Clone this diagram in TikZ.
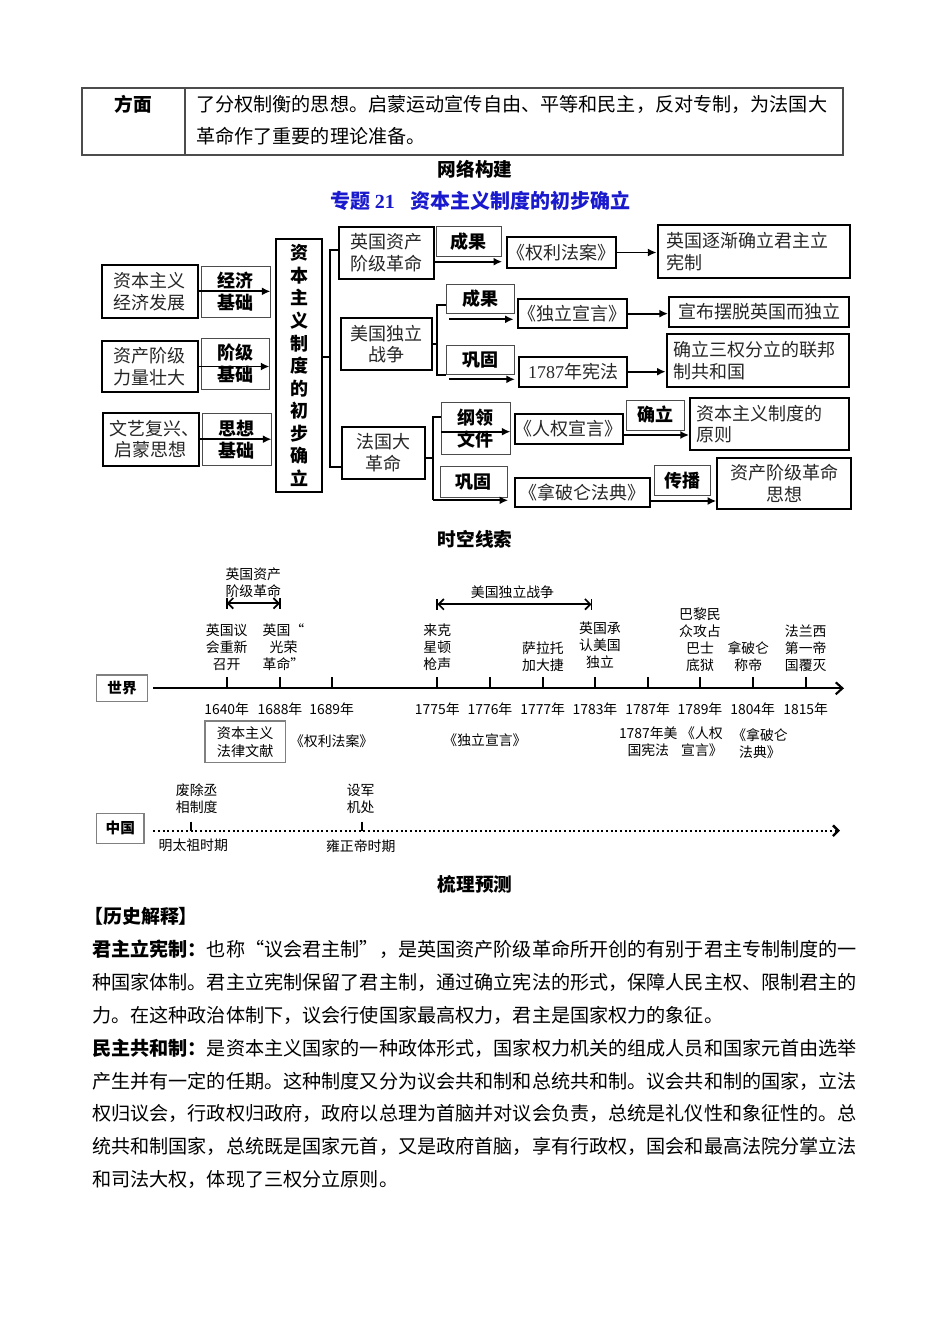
\documentclass[tikz,border=0pt]{standalone}
\usepackage{fontspec}
\setmainfont{Noto Sans CJK SC}
\newfontfamily\serf{Liberation Serif}
\usetikzlibrary{arrows.meta}
\definecolor{titleblue}{RGB}{25,25,205}
\newcommand\fsz[2]{\fontsize{#1}{#2}\selectfont}
\newcommand\mybox[7]{\node[#1, minimum width={(#5-#3)*0.75pt}, minimum height={(#6-#4)*0.75pt}] (#2) at ({(#3+#5)/2},{(#4+#6)/2}) {#7};}
\newcommand\zhjust{\noindent\XeTeXlinebreaklocale "zh"\XeTeXlinebreakskip=0pt plus 4pt minus 0.4pt\parfillskip=0pt\relax}
\begin{document}
\begin{tikzpicture}[x=0.75pt, y=-0.75pt,
  cbox/.style={draw=black, line width=1.5pt, inner sep=0pt, align=center, text=black!85, font=\fsz{13.5}{16.3}},
  lbox/.style={draw=black!70, line width=0.7pt, inner sep=0pt, align=center, font=\bfseries\fsz{13.5}{16.3}},
  mainv/.style={cbox, text=black, font=\bfseries\fsz{13.5}{16.9}},
  arr/.style={line width=1.3pt, -{Latex[length=6.5pt,width=6pt]}},
  brk/.style={line width=1.3pt},
  tbox/.style={draw=black!50, line width=0.8pt, inner sep=0pt, font=\bfseries\fsz{11}{13}},
  tbox2/.style={draw=black!50, line width=0.8pt, inner sep=0pt, align=center, font=\fsz{10.6}{13.5}},
  tlbl/.style={inner sep=0pt, align=center, font=\fsz{10.4}{12.75}},
  axisl/.style={line width=1.6pt, -{Straight Barb[length=5pt,width=9pt]}},
  tickl/.style={line width=1.6pt},
  spanl/.style={line width=1.3pt, {Straight Barb[length=4pt,width=8pt]}-{Straight Barb[length=4pt,width=8pt]}},
  dotl/.style={line width=1.8pt, dash pattern=on 1.4pt off 2.1pt, -{Straight Barb[length=4pt,width=8pt]}},
  head/.style={inner sep=0pt, font=\bfseries\fsz{14}{16}},
  body/.style={anchor=west, inner sep=0pt, font=\fsz{14.34}{17}},
  jline/.style={body, text width=573.9pt}
]
\useasboundingbox (0,0) rectangle (950,1344);

% ---- top table ----
\draw[black!70, line width=0.8pt] (82,88) rectangle (843,155);
\draw[black!70, line width=0.8pt] (185,88) -- (185,155);
\node[head, font=\bfseries\fsz{14}{16}] (fm) at (133,104) {方面};
\node[body] (t1) at (196,104) {了分权制衡的思想。启蒙运动宣传自由、平等和民主，反对专制，为法国大};
\node[body] (t2) at (196,136) {革命作了重要的理论准备。};

% ---- headings ----
\node[head] (h1) at (475,169) {网络构建};
\node[head, anchor=west, text=titleblue, font=\bfseries\fsz{15}{17}] (h2) at (330,201) {专题 {\serf 21}\hspace{12pt}资本主义制度的初步确立};

% ---- concept map: left ----
\mybox{cbox}{L1}{101.7}{265}{198}{317.7}{资本主义\\经济发展}
\mybox{lbox}{B1}{201}{266.7}{270}{317}{经济\\基础}
\mybox{cbox}{L2}{101.7}{340.7}{197.7}{392.3}{资产阶级\\力量壮大}
\mybox{lbox}{B2}{201}{338}{269}{389}{阶级\\基础}
\mybox{cbox}{L3}{102.7}{412.7}{199}{465.7}{文艺复兴、\kern-0.45em\\启蒙思想}
\mybox{lbox}{B3}{202}{413}{271}{465.7}{思想\\基础}
\draw[arr] (L1.east) -- (B1.east |- L1.east);
\draw[arr] (L2.east) -- (B2.east |- L2.east);
\draw[arr] (L3.east) -- (B3.east |- L3.east);

\mybox{mainv}{M}{276}{239}{322}{492}{资\\本\\主\\义\\制\\度\\的\\初\\步\\确\\立}

% ---- middle boxes ----
\mybox{cbox}{E}{339}{227}{434}{279}{英国资产\\阶级革命}
\mybox{cbox}{U}{340.7}{318}{431.7}{370}{美国独立\\战争}
\mybox{cbox}{F}{341.7}{427}{425}{479}{法国大\\革命}
\coordinate (mb) at (330,357);
\coordinate (mbt) at (330,250);
\coordinate (mbb) at (330,466.7);
\draw[brk] (M.east |- mb) -- (mb);
\draw[brk] (E.west |- mbt) -- (mbt) -- (mbb) -- (F.west |- mbb);

% ---- England row ----
\mybox{lbox}{EG}{436}{226.7}{501.7}{256}{成果}
\mybox{cbox}{EQ}{507}{237}{616}{268}{《权利法案》}
\mybox{cbox, align=left, text width=174*0.75pt, inner xsep=9*0.75pt}{ER}{657.7}{225}{849.3}{277.7}{英国逐渐确立君主立\\宪制}
\coordinate (ea) at (434,261.7);
\draw[arr] (ea) -- (ea -| EG.east);
\draw[arr] (EQ.east) -- (EQ.east -| ER.west);

% ---- USA row ----
\mybox{lbox}{UG}{446}{284}{514}{313.3}{成果}
\mybox{lbox}{UK}{446.7}{345.7}{514}{374.3}{巩固}
\mybox{cbox}{UD}{518}{299}{626.7}{328.3}{《独立宣言》}
\mybox{cbox}{UC}{519.3}{356.7}{626.7}{386.7}{{\serf 1787}年宪法}
\mybox{cbox}{UR1}{669}{296.7}{849.3}{326.7}{宣布摆脱英国而独立}
\mybox{cbox, align=left, text width=170*0.75pt, inner xsep=6*0.75pt}{UR2}{666.7}{334.3}{849.3}{386.7}{确立三权分立的联邦\\制共和国}
\coordinate (ubt) at (437.3,305);
\coordinate (ubb) at (437.3,375);
\draw[brk] (U.east) -- (U.east -| ubt);
\draw[brk] (UG.west |- ubt) -- (ubt) -- (ubb) -- (UK.west |- ubb);
\coordinate (ua1) at (449,319.3);
\coordinate (ua2) at (449,379.3);
\draw[arr] (ua1) -- ([xshift=-2.5pt]ua1 -| UD.west);
\draw[arr] (ua2) -- ([xshift=-2.5pt]ua2 -| UC.west);
\draw[arr] (UD.east) -- (UD.east -| UR1.west);
\draw[arr] (UC.east) -- (UC.east -| UR2.west);

% ---- France row ----
\mybox{lbox}{FG}{441}{402.3}{510}{454.3}{纲领\\文件}
\mybox{lbox}{FK}{440}{466.7}{507.7}{497.3}{巩固}
\mybox{cbox}{FN}{515}{414.3}{622.7}{444}{《人权宣言》}
\mybox{lbox}{FQ}{626.7}{400}{684}{430}{确立}
\mybox{cbox, align=left, text width=147*0.75pt, inner xsep=6*0.75pt}{FR}{690}{398.3}{849.3}{450}{资本主义制度的\\原则}
\mybox{cbox}{FP}{515}{478.3}{650}{507.3}{《拿破仑法典》}
\mybox{lbox}{FB}{654.3}{465.7}{710.7}{495.7}{传播}
\mybox{cbox}{FS}{717.3}{457.7}{850.7}{509.3}{资产阶级革命\\思想}
\coordinate (fm1) at (432.7,458.3);
\coordinate (fbt) at (432.7,416.7);
\coordinate (fbb) at (432.7,500.3);
\draw[brk] (F.east |- fm1) -- (fm1);
\draw[brk] (FG.west |- fbt) -- (fbt) -- (fbb);
\draw[arr] (fbb) -- (fbb -| FK.east);
\coordinate (fa1) at (441,431.7);
\draw[arr] (fa1) -- (fa1 -| FG.east);
\coordinate (fa3) at (622.7,435);
\draw[arr] (fa3) -- (fa3 -| FR.west);
\coordinate (fa4) at (650,501);
\draw[arr] (fa4) -- (fa4 -| FS.west);

% ---- timeline ----
\node[head] (h3) at (475,539) {时空线索};
\mybox{tbox}{W}{96.7}{675}{147.3}{701.7}{世界}
\coordinate (ax0) at (153.3,688.3);
\coordinate (ax1) at (844,688.3);
\draw[axisl] (ax0) -- (ax1);
\foreach \xx/\yy in {226.7/1640, 280/1688, 331.7/1689, 437.3/1775, 490/1776, 542.7/1777, 595/1783, 647.7/1787, 700/1789, 752.7/1804, 805.7/1815}{
  \draw[tickl] (\xx,677.3) -- (\xx,688.3);
  \node[tlbl] (yr\yy) at (\xx,709) {\yy 年};
}
\node[tlbl] (ev1) at (226.7,647.3) {英国议\\会重新\\召开};
\node[tlbl] (ev2) at (283.5,647.3) {英国“\\光荣\\革命”};
\node[tlbl] (ev3) at (437.3,647.3) {来克\\星顿\\枪声};
\node[tlbl] (ev4) at (543,657) {萨拉托\\加大捷};
\node[tlbl] (ev5) at (600,645) {英国承\\认美国\\独立};
\node[tlbl] (ev6) at (700,639.5) {巴黎民\\众攻占\\巴士\\底狱};
\node[tlbl] (ev7) at (748.3,657) {拿破仑\\称帝};
\node[tlbl] (ev8) at (805.7,648.3) {法兰西\\第一帝\\国覆灭};

\node[tlbl] (sp1) at (253.3,582.3) {英国资产\\阶级革命};
\coordinate (s1a) at (226.7,603.3);
\coordinate (s1b) at (280,603.3);
\draw[spanl] (s1a) -- (s1b);
\draw[tickl, line width=1.3pt] (226.7,598) -- (226.7,609);
\draw[tickl, line width=1.3pt] (280,598) -- (280,609);
\node[tlbl] (sp2) at (512.5,591.7) {美国独立战争};
\coordinate (s2a) at (437.3,604.3);
\coordinate (s2b) at (591.5,604.3);
\draw[spanl] (s2a) -- (s2b);
\draw[tickl, line width=1.3pt] (437.3,599) -- (437.3,610);
\draw[tickl, line width=1.3pt] (591.5,599) -- (591.5,610);

\mybox{tbox2}{LD}{205}{721}{285.3}{762.3}{资本主义\\法律文献}
\node[tlbl] (bw1) at (331.7,741) {《权利法案》};
\node[tlbl] (bw2) at (485,740) {《独立宣言》};
\node[tlbl] (bw3) at (648.3,742) {1787年美\\国宪法};
\node[tlbl] (bw4) at (702,742) {《人权\\宣言》};
\node[tlbl] (bw5) at (760,744) {《拿破仑\\法典》};

\mybox{tbox}{C}{96.7}{813.3}{144}{843.3}{中国}
\coordinate (cx0) at (153.3,830.7);
\coordinate (cx1) at (840,830.7);
\draw[dotl] (cx0) -- (cx1);
\draw[tickl] (190.7,821.7) -- (190.7,830.7);
\draw[tickl] (361.7,821.7) -- (361.7,830.7);
\node[tlbl] (cn1) at (196.7,799) {废除丞\\相制度};
\node[tlbl] (cn2) at (360.7,799) {设军\\机处};
\node[tlbl] (cn3) at (193.3,845.7) {明太祖时期};
\node[tlbl] (cn4) at (360.7,845.7) {雍正帝时期};

% ---- bottom text ----
\node[head] (h4) at (475,884) {梳理预测};
\node[body, font=\bfseries\fsz{14.2}{17}] (bt0) at (84,916) {【历史解释】};
\node[jline] (bl1) at (92,949) {\zhjust{\bfseries 君主立宪制：}也称“议会君主制”，是英国资产阶级革命所开创的有别于君主专制制度的一};
\node[jline] (bl2) at (92,982) {\zhjust 种国家体制。君主立宪制保留了君主制，通过确立宪法的形式，保障人民主权、限制君主的};
\node[body] (bl3) at (92,1015) {力。在这种政治体制下，议会行使国家最高权力，君主是国家权力的象征。};
\node[jline] (bl4) at (92,1048) {\zhjust{\bfseries 民主共和制：}是资本主义国家的一种政体形式，国家权力机关的组成人员和国家元首由选举};
\node[jline] (bl5) at (92,1081) {\zhjust 产生并有一定的任期。这种制度又分为议会共和制和总统共和制。议会共和制的国家，立法};
\node[jline] (bl6) at (92,1113) {\zhjust 权归议会，行政权归政府，政府以总理为首脑并对议会负责，总统是礼仪性和象征性的。总};
\node[jline] (bl7) at (92,1146) {\zhjust 统共和制国家，总统既是国家元首，又是政府首脑，享有行政权，国会和最高法院分掌立法};
\node[body] (bl8) at (92,1179) {和司法大权，体现了三权分立原则。};
\end{tikzpicture}
\end{document}
